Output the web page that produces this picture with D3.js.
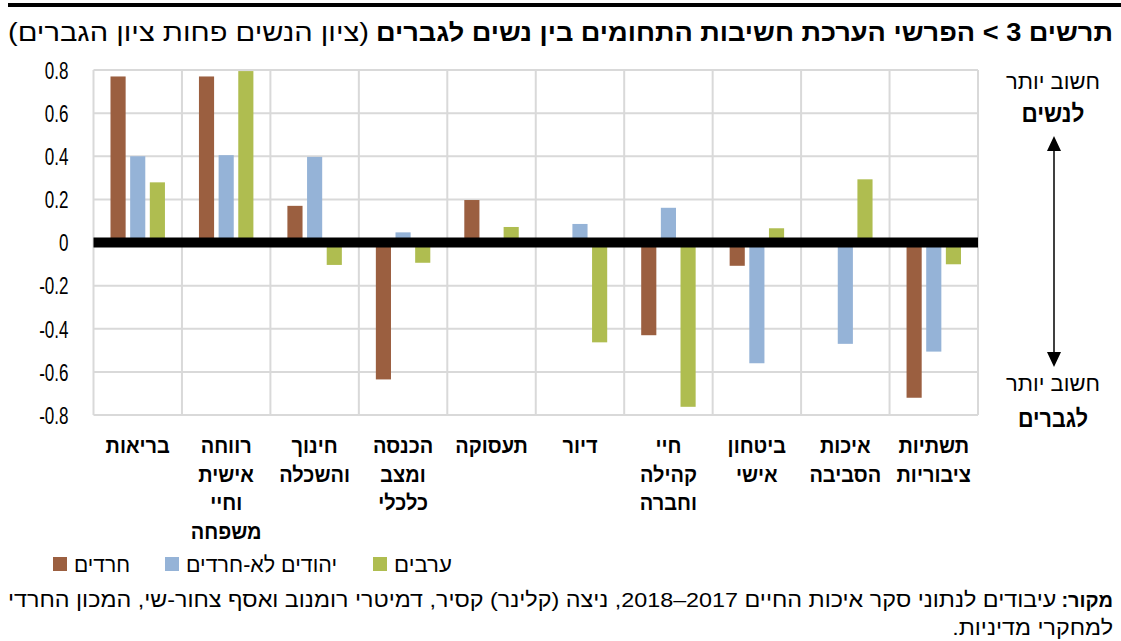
<!DOCTYPE html>
<html lang="he">
<head>
<meta charset="utf-8">
<script src="https://cdn.jsdelivr.net/npm/d3@7"></script>
<style>
  body { margin: 0; background: #fff; }
  svg { display: block; }
  text { font-family: "Liberation Sans", Arial, sans-serif; fill: #000; }
</style>
</head>
<body>
<div id="chart"></div>
<script>
// categories, left to right as drawn (multi-line labels)
const categories = [
  ["בריאות"],
  ["רווחה", "אישית", "וחיי", "משפחה"],
  ["חינוך", "והשכלה"],
  ["הכנסה", "ומצב", "כלכלי"],
  ["תעסוקה"],
  ["דיור"],
  ["חיי", "קהילה", "וחברה"],
  ["ביטחון", "אישי"],
  ["איכות", "הסביבה"],
  ["תשתיות", "ציבוריות"]
];
const seriesNames = ["חרדים", "יהודים לא-חרדים", "ערבים"];
const seriesColors = ["#9b5f40", "#95b3d7", "#afbd50"];
const haredim = [0.77, 0.77, 0.17, -0.635, 0.197, 0, -0.43, -0.108, -0.005, -0.72];
const nonHaredi = [0.40, 0.405, 0.397, 0.047, 0, 0.086, 0.161, -0.56, -0.47, -0.506];
const arabs = [0.279, 0.795, -0.104, -0.094, 0.072, -0.463, -0.762, 0.066, 0.293, -0.101];
const yTicks = [0.8, 0.6, 0.4, 0.2, 0, -0.2, -0.4, -0.6, -0.8];

const W = 1121, H = 641;
const plot = { left: 93.5, right: 978, top: 70, bottom: 415 };
const NARROW = 0.82; // Arial Narrow look, squeezing Liberation Sans

const svg = d3.select("#chart").append("svg")
  .attr("width", W).attr("height", H);

// squeeze text horizontally (either to a width or by a factor)
const squeeze = (sel, width, factor) => {
  sel.each(function () {
    const L = this.getComputedTextLength();
    const w = width ? width : L * (factor || NARROW);
    d3.select(this).attr("textLength", w).attr("lengthAdjust", "spacingAndGlyphs");
  });
  return sel;
};

// top rule
svg.append("rect").attr("x", 8).attr("y", 3).attr("width", W - 8).attr("height", 4).attr("fill", "#000");

// title: bold part + narrow part
svg.append("text")
  .attr("x", 1113).attr("y", 41)
  .attr("direction", "rtl").attr("text-anchor", "start")
  .attr("font-weight", "bold").attr("font-size", 25)
  .text("תרשים 3 > הפרשי הערכת חשיבות התחומים בין נשים לגברים")
  .call(squeeze, 737);
svg.append("text")
  .attr("x", 369).attr("y", 41)
  .attr("direction", "rtl").attr("text-anchor", "start")
  .attr("font-size", 25)
  .text("(ציון הנשים פחות ציון הגברים)")
  .call(squeeze, 361);

const keys = d3.range(categories.length);
const x = d3.scaleBand().domain(keys).range([plot.left, plot.right]).paddingInner(0).paddingOuter(0);
const xs = d3.scaleBand().domain(d3.range(3)).range([17, x.bandwidth() - 17]).paddingInner(0.23).paddingOuter(0);
const y = d3.scaleLinear().domain([-0.8, 0.8]).range([plot.bottom, plot.top]);

const grid = svg.append("g").attr("stroke", "#d9d9d9").attr("stroke-width", 2);
grid.selectAll("line.h").data(yTicks).join("line")
  .attr("x1", plot.left).attr("x2", plot.right)
  .attr("y1", d => y(d)).attr("y2", d => y(d));
grid.selectAll("line.v").data(keys.concat([categories.length])).join("line")
  .attr("x1", d => d < categories.length ? x(d) : plot.right)
  .attr("x2", d => d < categories.length ? x(d) : plot.right)
  .attr("y1", plot.top).attr("y2", plot.bottom);

// y axis labels
const yAxis = svg.append("g").attr("transform", `translate(${plot.left - 25},0)`)
  .call(d3.axisLeft(y).tickValues(yTicks).tickSize(0)
    .tickFormat(d => d === 0 ? "0" : (d < 0 ? "-" : "") + Math.abs(d).toFixed(1)));
yAxis.attr("font-size", null).attr("font-family", null);
yAxis.select(".domain").remove();
yAxis.selectAll("text").attr("font-size", 23)
  .attr("x", 0).attr("dy", "0.36em")
  .call(squeeze, null, 0.74);

// bars
const series = [haredim, nonHaredi, arabs];
const bars = svg.append("g");
series.forEach((vals, s) => {
  bars.selectAll(null).data(vals).join("rect")
    .attr("x", (d, i) => x(i) + xs(s))
    .attr("width", xs.bandwidth())
    .attr("y", d => y(Math.max(0, d)))
    .attr("height", d => Math.abs(y(d) - y(0)))
    .attr("fill", seriesColors[s]);
});

// zero line
svg.append("line")
  .attr("x1", plot.left).attr("x2", plot.right)
  .attr("y1", y(0)).attr("y2", y(0))
  .attr("stroke", "#000").attr("stroke-width", 10);

// category labels
const catG = svg.append("g");
categories.forEach((lines, i) => {
  lines.forEach((ln, k) => {
    catG.append("text")
      .attr("font-weight", "bold").attr("font-size", 21)
      .attr("direction", "rtl").attr("text-anchor", "middle")
      .attr("x", x(i) + x.bandwidth() / 2).attr("y", 453 + k * 28.7)
      .text(ln)
      .call(squeeze, null, 0.95);
  });
});

// right side annotation
const ax = 1054;
const ann = svg.append("g");
const annText = (txt, yy, bold) => ann.append("text")
  .attr("direction", "rtl").attr("text-anchor", "middle")
  .attr("x", ax - 1).attr("y", yy)
  .attr("font-size", bold ? 24 : 22)
  .attr("font-weight", bold ? "bold" : null)
  .text(txt);
annText("חשוב יותר", 89, false).call(squeeze, 94);
annText("לנשים", 122, true).call(squeeze, 63);
annText("חשוב יותר", 391, false).call(squeeze, 94);
annText("לגברים", 427, true).call(squeeze, 70);
svg.append("line").attr("x1", ax).attr("x2", ax).attr("y1", 148).attr("y2", 354)
  .attr("stroke", "#404040").attr("stroke-width", 2);
svg.append("path").attr("d", `M${ax},136 L${ax - 7},151 L${ax + 7},151 Z`).attr("fill", "#000");
svg.append("path").attr("d", `M${ax},367 L${ax - 7},352 L${ax + 7},352 Z`).attr("fill", "#000");

// legend
const legendX = [53, 165, 373];
const legendW = [56, 151, 58];
const leg = svg.append("g");
seriesNames.forEach((name, s) => {
  leg.append("rect").attr("x", legendX[s]).attr("y", 557).attr("width", 14).attr("height", 14).attr("fill", seriesColors[s]);
  leg.append("text").attr("font-size", 22)
    .attr("direction", "rtl").attr("text-anchor", "end")
    .attr("x", legendX[s] + 21).attr("y", 572).text(name)
    .call(squeeze, legendW[s]);
});

// source
const srcBold = svg.append("text").attr("x", 1113).attr("y", 607)
  .attr("direction", "rtl").attr("text-anchor", "start")
  .attr("font-size", 20).attr("font-weight", "bold")
  .text("מקור:");
const boldW = srcBold.node().getComputedTextLength();
const src1 = svg.append("text").attr("x", 1113 - boldW - 5).attr("y", 607)
  .attr("direction", "rtl").attr("text-anchor", "start").attr("font-size", 21)
  .text("עיבודים לנתוני סקר איכות החיים 2017–2018, ניצה (קלינר) קסיר, דמיטרי רומנוב ואסף צחור-שי, המכון החרדי");
const natural1 = src1.node().getComputedTextLength();
const srcW = 1113 - boldW - 5 - 8;
src1.call(squeeze, srcW);
const src2 = svg.append("text").attr("x", 1113).attr("y", 635)
  .attr("direction", "rtl").attr("text-anchor", "start").attr("font-size", 21)
  .text("למחקרי מדיניות.");
src2.call(squeeze, src2.node().getComputedTextLength() * srcW / natural1);
</script>
</body>
</html>
